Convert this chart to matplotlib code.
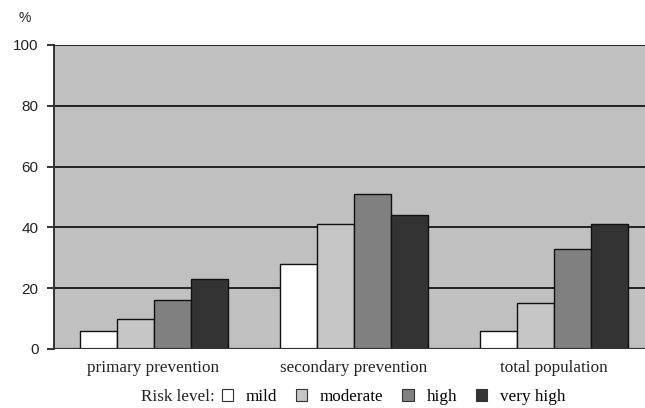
import numpy as np
import matplotlib
matplotlib.use("Agg")
import matplotlib.pyplot as plt
from matplotlib.patches import Patch

groups = ["primary prevention", "secondary prevention", "total population"]
levels = ["mild", "moderate", "high", "very high"]
mild = [6, 28, 6]
moderate = [10, 41, 15]
high = [16, 51, 33]
very_high = [23, 44, 41]
yticks = [0, 20, 40, 60, 80, 100]

colors = ["#ffffff", "#c6c6c6", "#808080", "#333333"]
series = [mild, moderate, high, very_high]

fig = plt.figure(figsize=(6.45, 4.08), dpi=100)
ax = fig.add_axes([54 / 645, 1 - 349 / 408, 1 - 54 / 645, (349 - 45) / 408])
ax.set_facecolor("#c0c0c0")

x = np.arange(len(groups))
w = 0.185
for i, (vals, c) in enumerate(zip(series, colors)):
    ax.bar(x + (i - 1.5) * w, vals, w, color=c, edgecolor="#111111",
           linewidth=1.0, zorder=3)

for yv in yticks[1:]:
    ax.axhline(yv, color="#222222", lw=1.4, zorder=1)
ax.axhline(0, color="#333333", lw=1.6, zorder=4)

ax.set_xlim(-0.4975, 2.4575)
ax.set_ylim(0, 100)
for s in ["top", "right", "bottom"]:
    ax.spines[s].set_visible(False)
ax.spines["left"].set_color("#333333")
ax.spines["left"].set_linewidth(1.4)

ax.set_yticks(yticks)
ax.set_yticklabels([str(v) for v in yticks], fontfamily="Liberation Sans",
                   fontsize=11, color="#222222")
ax.tick_params(axis="y", length=5, width=1.4, color="#333333", pad=6)
ax.set_xticks(x)
ax.set_xticklabels(groups, fontfamily="Liberation Serif", fontsize=12.3,
                   color="#222222")
ax.tick_params(axis="x", length=0, pad=8)

fig.text(25 / 645, 1 - 18 / 408, "%", fontfamily="Liberation Sans",
         fontsize=10, ha="center", va="center", color="#222222")

handles = [Patch(facecolor=c, edgecolor="#333333", linewidth=0.8) for c in colors]
fig.text(215 / 645, 1 - 397 / 408, "Risk level:", fontfamily="Liberation Serif",
         fontsize=12.3, ha="right", va="center", color="#222222")
fig.legend(handles, levels, loc="center left", bbox_to_anchor=(222 / 645, 1 - 397 / 408),
           ncol=4, frameon=False, borderpad=0, borderaxespad=0,
           handlelength=0.65, handleheight=0.65,
           handletextpad=0.75, columnspacing=1.1,
           prop={"family": "Liberation Serif", "size": 12.3})

fig.savefig("out.png", dpi=100)
